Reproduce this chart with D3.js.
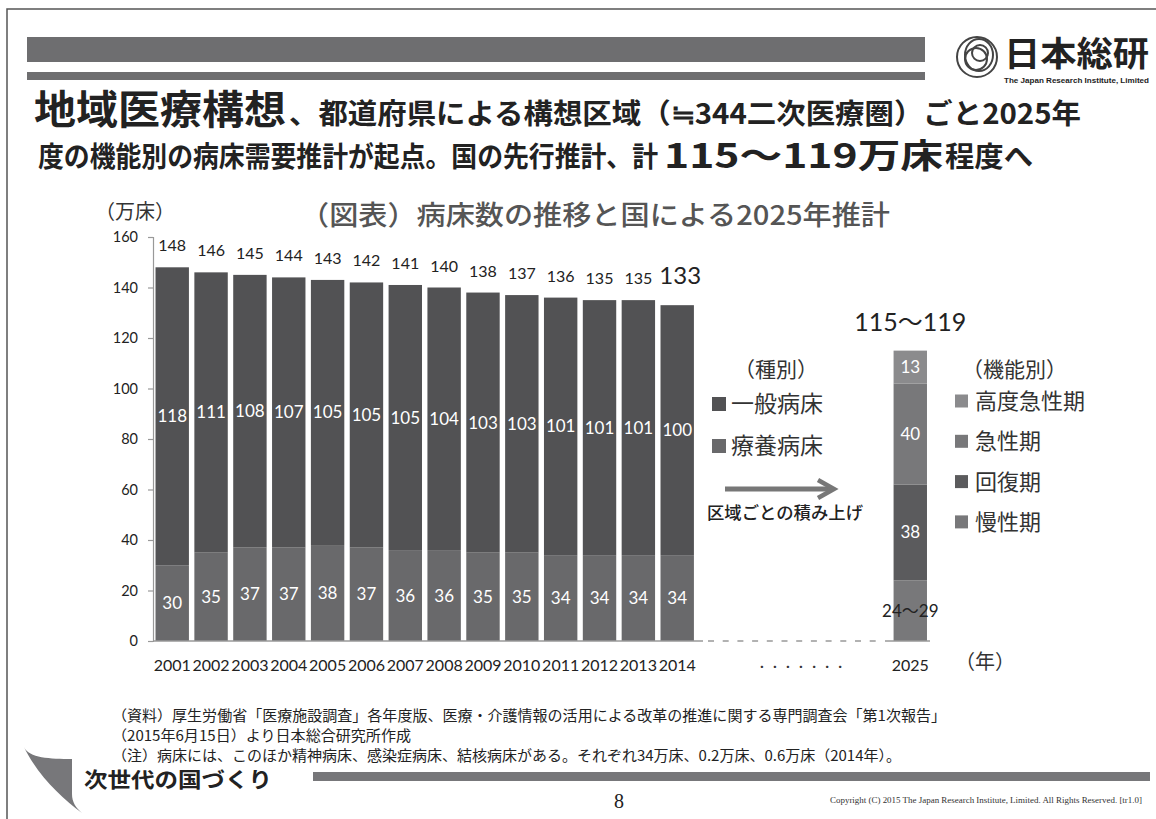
<!DOCTYPE html>
<html>
<head>
<meta charset="utf-8">
<script src="https://cdn.jsdelivr.net/npm/d3@7"></script>
<style>
  body { margin: 0; background: #fff; }
  svg { display: block; }
</style>
</head>
<body>
<svg id="chart" width="1156" height="819"></svg>
<script>
// data
const years        = ["2001","2002","2003","2004","2005","2006","2007","2008","2009","2010","2011","2012","2013","2014"];
const generalBeds  = [118, 111, 108, 107, 105, 105, 105, 104, 103, 103, 101, 101, 101, 100];
const longTermBeds = [30, 35, 37, 37, 38, 37, 36, 36, 35, 35, 34, 34, 34, 34];
const totalBeds    = [148, 146, 145, 144, 143, 142, 141, 140, 138, 137, 136, 135, 135, 133];
const futureYear   = "2025";
const futureKeys   = ["慢性期", "回復期", "急性期", "高度急性期"];
const futureValues = [24, 38, 40, 13];
const futureLabels = ["24～29", "38", "40", "13"];
const futureTotal  = "115～119";
const yTicks       = [0, 20, 40, 60, 80, 100, 120, 140, 160];
const typeLegend   = ["一般病床", "療養病床"];
const funcLegend   = ["高度急性期", "急性期", "回復期", "慢性期"];
const notes = [
  "（資料）厚生労働省「医療施設調査」各年度版、医療・介護情報の活用による改革の推進に関する専門調査会「第1次報告」",
  "（2015年6月15日）より日本総合研究所作成",
  "（注）病床には、このほか精神病床、感染症病床、結核病床がある。それぞれ34万床、0.2万床、0.6万床（2014年）。"
];

const jp  = "'Noto Sans CJK JP', sans-serif";
const num = "Lato, 'Noto Sans CJK JP', sans-serif";

const colGeneral  = "#525254";
const colLongTerm = "#69696b";
const funcColors  = { "高度急性期": "#8b8b8d", "急性期": "#78787a", "回復期": "#5b5b5d", "慢性期": "#78787a" };

const svg = d3.select("#chart");

// slide frame + header
svg.append("path").attr("d", "M7,819 V9 H1156").attr("fill", "none").attr("stroke", "#555").attr("stroke-width", 1.5);
svg.append("rect").attr("x", 27).attr("y", 37).attr("width", 898).attr("height", 25).attr("fill", "#6e6e70");
svg.append("rect").attr("x", 27).attr("y", 72).attr("width", 898).attr("height", 8).attr("fill", "#6e6e70");

// logo
const logo = svg.append("g").attr("fill", "none").attr("stroke", "#444").attr("stroke-width", 2);
logo.append("circle").attr("cx", 977).attr("cy", 57).attr("r", 20);
logo.append("ellipse").attr("cx", 979).attr("cy", 55).attr("rx", 14).attr("ry", 16);
logo.append("circle").attr("cx", 980).attr("cy", 53).attr("r", 8);
logo.append("circle").attr("cx", 976).attr("cy", 59).attr("r", 11);
svg.append("text").attr("x", 1004).attr("y", 66).attr("font-family", jp).attr("font-weight", 700)
  .attr("font-size", 34).attr("fill", "#222").attr("textLength", 145).attr("lengthAdjust", "spacingAndGlyphs").text("日本総研");
svg.append("text").attr("x", 1004).attr("y", 83).attr("font-family", "'Liberation Sans Narrow', 'Liberation Sans', sans-serif").attr("font-weight", 700)
  .attr("font-size", 8).attr("fill", "#222").attr("textLength", 145).attr("lengthAdjust", "spacingAndGlyphs").text("The Japan Research Institute, Limited");

// headline
function fitText(x, y, size, weight, len, str, fill) {
  return svg.append("text").attr("x", x).attr("y", y).attr("font-family", jp).attr("font-weight", weight)
    .attr("font-size", size).attr("fill", fill || "#222").attr("textLength", len)
    .attr("lengthAdjust", "spacingAndGlyphs").text(str);
}
fitText(34, 124, 40, 700, 252, "地域医療構想");
fitText(289, 124, 28, 700, 792, "、都道府県による構想区域（≒344二次医療圏）ごと2025年");
fitText(38, 167, 28, 700, 620, "度の機能別の病床需要推計が起点。国の先行推計、計");
fitText(664, 168, 34, 700, 279, "115～119万床");
fitText(945, 167, 28, 700, 88, "程度へ");

// chart titles
svg.append("text").attr("x", 95).attr("y", 219).attr("font-family", jp).attr("font-size", 20).attr("fill", "#333").text("（万床）");
svg.append("text").attr("x", 300).attr("y", 225).attr("font-family", jp).attr("font-weight", 500).attr("font-size", 27)
  .attr("fill", "#555").attr("textLength", 590).attr("lengthAdjust", "spacingAndGlyphs").text("（図表）病床数の推移と国による2025年推計");

// scales
const slots = years.concat(["g1", "g2", "g3", "g4", "g5", futureYear]);
const x = d3.scaleBand().domain(slots).range([152.8, 929.7]).paddingInner(0.14).paddingOuter(0.07);
const y = d3.scaleLinear().domain([0, 160]).range([641, 237]);

// y axis
svg.append("g")
  .attr("transform", "translate(153,0)")
  .call(d3.axisLeft(y).tickValues(yTicks).tickSize(5).tickSizeOuter(5).tickPadding(10))
  .call(g => g.selectAll("path, line").attr("stroke", "#999").attr("stroke-width", 1.2))
  .call(g => g.selectAll("text").attr("font-family", num).attr("font-size", 14.5).attr("fill", "#222"));

// bars 2001-2014
const rows = years.map((yr, i) => ({ year: yr, longTerm: longTermBeds[i], general: generalBeds[i], total: totalBeds[i] }));
const bars = svg.append("g").selectAll("g").data(rows).join("g");
bars.append("rect")
  .attr("x", d => x(d.year)).attr("width", x.bandwidth())
  .attr("y", d => y(d.longTerm)).attr("height", d => y(0) - y(d.longTerm))
  .attr("fill", colLongTerm);
bars.append("rect")
  .attr("x", d => x(d.year)).attr("width", x.bandwidth())
  .attr("y", d => y(d.total)).attr("height", d => y(d.longTerm) - y(d.total))
  .attr("fill", colGeneral);
bars.append("text")
  .attr("x", d => x(d.year) + x.bandwidth() / 2).attr("y", d => y((d.longTerm + d.total) / 2) + 6)
  .attr("text-anchor", "middle").attr("font-family", num).attr("font-size", 17).attr("fill", "#fff")
  .text(d => d.general);
bars.append("text")
  .attr("x", d => x(d.year) + x.bandwidth() / 2).attr("y", d => y(d.longTerm / 2) + 6)
  .attr("text-anchor", "middle").attr("font-family", num).attr("font-size", 17).attr("fill", "#fff")
  .text(d => d.longTerm);
bars.append("text")
  .attr("x", (d, i) => x(d.year) + x.bandwidth() / 2 + (i === rows.length - 1 ? 3 : 0))
  .attr("y", (d, i) => y(d.total) - (i === rows.length - 1 ? 21 : 16))
  .attr("text-anchor", "middle").attr("font-family", num)
  .attr("font-size", (d, i) => i === rows.length - 1 ? 24 : 16).attr("fill", "#222")
  .text(d => d.total);

// 2025 stacked bar
const futureRow = {};
futureKeys.forEach((k, i) => futureRow[k] = futureValues[i]);
const futureStack = d3.stack().keys(futureKeys)([futureRow]);
const fut = svg.append("g").selectAll("g").data(futureStack).join("g");
fut.append("rect")
  .attr("x", x(futureYear)).attr("width", x.bandwidth())
  .attr("y", d => y(d[0][1])).attr("height", d => y(d[0][0]) - y(d[0][1]))
  .attr("fill", d => funcColors[d.key]);
fut.append("text")
  .attr("x", x(futureYear) + x.bandwidth() / 2)
  .attr("y", (d, i) => i === 0 ? y(d[0][0]) - 24 : y((d[0][0] + d[0][1]) / 2) + 6)
  .attr("text-anchor", "middle").attr("font-family", num).attr("font-size", 17)
  .attr("fill", (d, i) => i === 0 ? "#222" : "#fff")
  .text((d, i) => futureLabels[i]);
svg.append("text").attr("x", x(futureYear) + x.bandwidth() / 2).attr("y", y(d3.sum(futureValues)) - 20)
  .attr("text-anchor", "middle").attr("font-family", num).attr("font-size", 25).attr("fill", "#222").text(futureTotal);

// x baseline
svg.append("line").attr("x1", 153).attr("x2", 703).attr("y1", y(0)).attr("y2", y(0)).attr("stroke", "#999").attr("stroke-width", 1.5);
svg.append("line").attr("x1", 708).attr("x2", 880).attr("y1", y(0)).attr("y2", y(0))
  .attr("stroke", "#999").attr("stroke-width", 1.5).attr("stroke-dasharray", "6 8.7");
svg.append("line").attr("x1", 885).attr("x2", 930).attr("y1", y(0)).attr("y2", y(0)).attr("stroke", "#999").attr("stroke-width", 1.5);

// x labels
svg.append("g")
  .attr("transform", `translate(0,${y(0)})`)
  .call(d3.axisBottom(x).tickValues(years.concat([futureYear])).tickSize(0).tickPadding(19))
  .call(g => g.select(".domain").remove())
  .call(g => g.selectAll("text").attr("font-family", num).attr("font-size", 16).attr("fill", "#222"));
svg.append("text").attr("x", 760).attr("y", 668).attr("font-family", num).attr("font-weight", 700).attr("font-size", 16)
  .attr("fill", "#333").attr("textLength", 82).attr("lengthAdjust", "spacing").text(".......");
svg.append("text").attr("x", 955).attr("y", 669).attr("font-family", jp).attr("font-size", 20).attr("fill", "#333").text("（年）");

// legend: type
svg.append("text").attr("x", 734).attr("y", 377).attr("font-family", jp).attr("font-size", 21).attr("fill", "#333").text("（種別）");
const typeColors = [colGeneral, colLongTerm];
typeLegend.forEach((t, i) => {
  const cy = 404 + i * 42;
  svg.append("rect").attr("x", 712).attr("y", cy - 7).attr("width", 14).attr("height", 14).attr("fill", typeColors[i]);
  svg.append("text").attr("x", 731).attr("y", cy + 8).attr("font-family", jp).attr("font-size", 23).attr("fill", "#333").text(t);
});

// arrow
svg.append("line").attr("x1", 725).attr("x2", 832).attr("y1", 489).attr("y2", 489).attr("stroke", "#777").attr("stroke-width", 5);
svg.append("path").attr("d", "M818,480 L834,489 L818,498").attr("fill", "none").attr("stroke", "#777").attr("stroke-width", 4.5);
svg.append("text").attr("x", 707).attr("y", 519).attr("font-family", jp).attr("font-weight", 500).attr("font-size", 17)
  .attr("fill", "#222").attr("textLength", 156).attr("lengthAdjust", "spacingAndGlyphs").text("区域ごとの積み上げ");

// legend: function
svg.append("text").attr("x", 962).attr("y", 377).attr("font-family", jp).attr("font-size", 21).attr("fill", "#333").text("（機能別）");
funcLegend.forEach((t, i) => {
  const cy = 401 + i * 40.3;
  svg.append("rect").attr("x", 955).attr("y", cy - 6.5).attr("width", 13).attr("height", 13).attr("fill", funcColors[t]);
  svg.append("text").attr("x", 975).attr("y", cy + 8).attr("font-family", jp).attr("font-size", 22).attr("fill", "#333").text(t);
});

// notes
const noteLens = [834, 299, 789];
notes.forEach((n, i) => {
  svg.append("text").attr("x", 112).attr("y", 721 + i * 20).attr("font-family", jp).attr("font-size", 14.5)
    .attr("fill", "#222").attr("textLength", noteLens[i]).attr("lengthAdjust", "spacingAndGlyphs").text(n);
});

// footer
svg.append("path")
  .attr("d", "M24,747 C29,758 50,759 72,759 L72,794 C72,802 76,808 82,813 C62,798 38,776 24,747 Z")
  .attr("fill", "#77777a");
svg.append("text").attr("x", 84).attr("y", 787).attr("font-family", jp).attr("font-weight", 700).attr("font-size", 21)
  .attr("fill", "#222").attr("textLength", 188).attr("lengthAdjust", "spacingAndGlyphs").text("次世代の国づくり");
svg.append("rect").attr("x", 313).attr("y", 772).attr("width", 837).attr("height", 9).attr("fill", "#77777a");
svg.append("text").attr("x", 619).attr("y", 808).attr("text-anchor", "middle").attr("font-family", "'Liberation Serif', serif")
  .attr("font-size", 20).attr("fill", "#222").text("8");
svg.append("text").attr("x", 830).attr("y", 803).attr("font-family", "'Liberation Serif', serif")
  .attr("font-size", 8.5).attr("fill", "#333").attr("textLength", 312).attr("lengthAdjust", "spacingAndGlyphs")
  .text("Copyright (C) 2015 The Japan Research Institute, Limited. All Rights Reserved. [tr1.0]");
</script>
</body>
</html>
